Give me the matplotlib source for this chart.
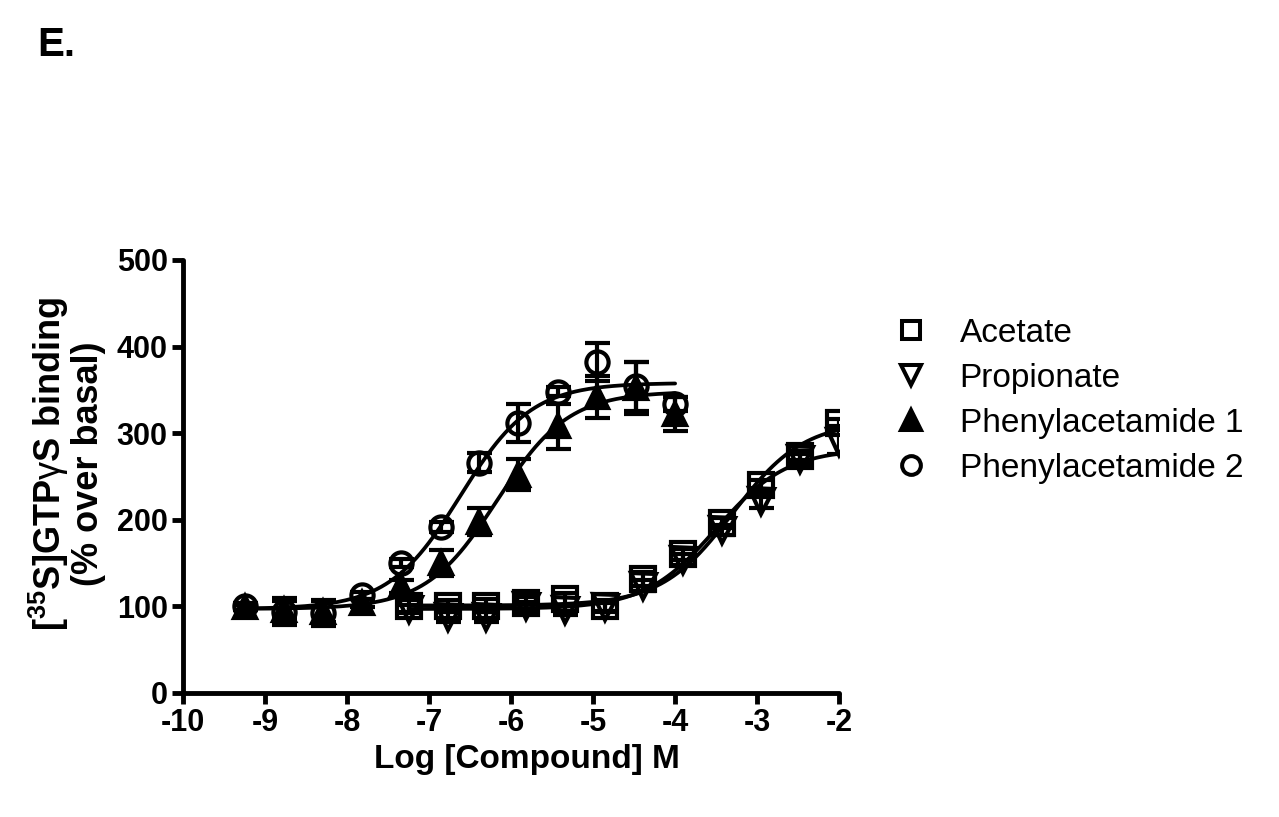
import numpy as np
import matplotlib
matplotlib.use("Agg")
import matplotlib.pyplot as plt
from matplotlib.lines import Line2D

plt.rcParams['font.family'] = ['Liberation Sans', 'DejaVu Sans']
plt.rcParams['axes.unicode_minus'] = False
plt.rcParams['mathtext.fontset'] = 'custom'
plt.rcParams['mathtext.rm'] = 'Liberation Sans:bold'
plt.rcParams['mathtext.bf'] = 'Liberation Sans:bold'
plt.rcParams['mathtext.it'] = 'Liberation Sans'

# log molar concentrations
x_pa = [-9.25, -8.77, -8.29, -7.82, -7.34, -6.86, -6.39, -5.91, -5.43, -4.95, -4.48, -4.00]
x_acid = [-7.25, -6.77, -6.30, -5.82, -5.34, -4.86, -4.39, -3.91, -3.43, -2.95, -2.48, -2.00]

# responses (% over basal) and SEM
acetate = [100, 100, 101, 104, 108, 101, 132, 160, 196, 240, 274, 312]
acetate_sem = [7, 7, 7, 7, 8, 6, 8, 6, 6, 6, 5, 4]
propionate = [97, 88, 88, 100, 96, 99, 124, 154, 188, 222, 270, 290]
propionate_sem = [5, 6, 6, 5, 6, 5, 6, 6, 6, 8, 6, 14]
pa1 = [99, 96, 94, 104, 123, 150, 198, 252, 308, 342, 352, 322]
pa1_sem = [3, 10, 12, 5, 8, 15, 16, 18, 26, 24, 30, 20]
pa2 = [100, 94, 92, 113, 150, 192, 266, 312, 348, 382, 354, 334]
pa2_sem = [4, 16, 15, 4, 5, 6, 11, 22, 5, 22, 28, 8]

# four-parameter logistic fits: bottom, top, logEC50, hill
fit_acetate = (101, 314, -3.30, 1.0)
fit_propionate = (97, 282, -3.50, 1.0)
fit_pa1 = (97, 348, -6.17, 1.0)
fit_pa2 = (97, 358, -6.62, 1.0)

labels = ['Acetate', 'Propionate', 'Phenylacetamide 1', 'Phenylacetamide 2']


def logistic(x, p):
    bottom, top, logec50, hill = p
    return bottom + (top - bottom) / (1 + 10 ** ((logec50 - x) * hill))


fig = plt.figure(figsize=(12.79, 8.17), dpi=100)
ax = fig.add_axes([0.1431, 0.1518, 0.5130, 0.5300])

series = [
    (x_acid, acetate, acetate_sem, fit_acetate, 's', 'none', 17),
    (x_acid, propionate, propionate_sem, fit_propionate, 'v', 'none', 18),
    (x_pa, pa1, pa1_sem, fit_pa1, '^', 'black', 16.5),
    (x_pa, pa2, pa2_sem, fit_pa2, 'o', 'none', 16),
]

for xs, ys, es, fit, mk, fc, size in series:
    xf = np.linspace(min(xs), max(xs), 300)
    ax.plot(xf, logistic(xf, fit), color='black', lw=2.7, zorder=2,
            solid_capstyle='round')
    ax.errorbar(xs, ys, yerr=es, fmt=mk, ms=size, mew=3.0, mfc=fc, mec='black',
                ecolor='black', elinewidth=3.0, capsize=9, capthick=3.0,
                zorder=3)

ax.set_xlim(-10, -2)
ax.set_ylim(0, 500)
ax.set_xticks(range(-10, -1))
ax.set_yticks(range(0, 501, 100))
for s in ['top', 'right']:
    ax.spines[s].set_visible(False)
for s in ['left', 'bottom']:
    ax.spines[s].set_linewidth(3.5)
    ax.spines[s].set_capstyle('round')
ax.tick_params(direction='out', length=8, width=3.5, labelsize=22, pad=3)
for t in ax.get_xticklabels() + ax.get_yticklabels():
    t.set_fontweight('bold')

ax.set_xlabel('Log [Compound] M', fontsize=24, fontweight='bold')
ax.xaxis.set_label_coords(0.524, -0.118)
ax.set_ylabel('[$^{35}$S]GTP$\\mathit{\\gamma}$S binding\n(% over basal)',
              fontsize=26, fontweight='bold', linespacing=1.0)
ax.yaxis.set_label_coords(-0.118, 0.53)

handles = [
    Line2D([], [], ls='none', marker='s', ms=13.5, mew=2.9, mfc='none', mec='black'),
    Line2D([], [], ls='none', marker='v', ms=14.5, mew=2.9, mfc='none', mec='black'),
    Line2D([], [], ls='none', marker='^', ms=14.5, mew=2.9, mfc='black', mec='black'),
    Line2D([], [], ls='none', marker='o', ms=13.5, mew=2.9, mfc='none', mec='black'),
]
fig.legend(handles, labels, loc='upper left', bbox_to_anchor=(0.689, 0.627),
           frameon=False, fontsize=24, handlelength=1.0, handletextpad=0.95,
           labelspacing=0.42, borderaxespad=0)

fig.text(0.029, 0.945, 'E.', fontsize=29, fontweight='bold', va='center')

fig.savefig('out.png', dpi=100)
